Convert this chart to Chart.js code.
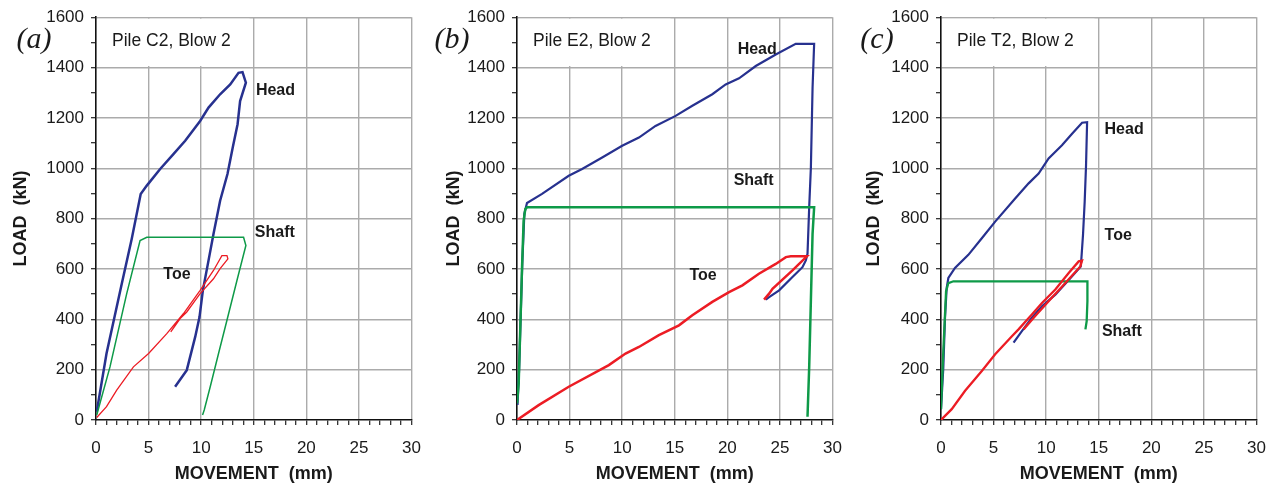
<!DOCTYPE html>
<html>
<head>
<meta charset="utf-8">
<script src="https://cdn.jsdelivr.net/npm/chart.js@4.4.1/dist/chart.umd.min.js"></script>
<style>
  body { margin: 0; background: #fff; width: 1273px; height: 485px; overflow: hidden; position: relative; }
  canvas { position: absolute; top: 0; }
</style>
</head>
<body>
<canvas id="chartA" width="434" height="485" style="left:0px;width:434px;height:485px"></canvas>
<canvas id="chartB" width="434" height="485" style="left:421px;width:434px;height:485px"></canvas>
<canvas id="chartC" width="434" height="485" style="left:845px;width:434px;height:485px"></canvas>
<script>
// movement (mm) / load (kN)

// (a) Pile C2, Blow 2
const headMovA = [0.07, 1.0, 2.45, 3.4, 4.25, 4.83, 6.1, 7.36, 8.48, 9.9, 10.7, 11.8, 12.76, 13.55, 13.93, 14.25, 13.7, 13.46, 13.0, 12.5, 11.8, 11.17, 10.7, 10.16, 9.84, 9.43, 8.63, 7.52];
const headLoadA = [33, 264, 541, 720, 898, 931, 997, 1056, 1109, 1188, 1241, 1294, 1333, 1379, 1382, 1340, 1267, 1175, 1082, 977, 871, 739, 634, 515, 409, 330, 198, 132];
const shaftMovA = [0.07, 1.33, 2.92, 4.19, 4.83, 14.03, 14.25, 13.4, 12.45, 11.65, 10.86, 10.29, 10.13];
const shaftLoadA = [20, 211, 502, 713, 726, 726, 693, 554, 396, 264, 132, 40, 20];
const toeMovA = [0.07, 1.0, 1.97, 3.56, 5.0, 6.73, 8.32, 9.9, 11.17, 11.97, 12.45, 12.54, 11.8, 11.17, 9.9, 8.63, 8.0, 7.11];
const toeLoadA = [10, 53, 119, 211, 264, 343, 423, 515, 594, 653, 653, 640, 601, 561, 502, 429, 403, 350];

// (b) Pile E2, Blow 2
const headMovB = [0.05, 0.2, 0.5, 0.7, 0.95, 2.38, 4.92, 6.19, 8.1, 10.0, 11.59, 13.17, 15.08, 16.67, 18.57, 19.84, 21.11, 22.7, 24.6, 26.5, 28.25, 28.1, 27.94, 27.78, 27.62, 27.46, 27.14, 26.19, 24.92, 23.97, 23.65];
const headLoadB = [60, 200, 620, 820, 862, 898, 970, 997, 1043, 1089, 1122, 1168, 1208, 1248, 1294, 1333, 1357, 1406, 1452, 1494, 1494, 1320, 1003, 845, 660, 634, 607, 568, 515, 488, 478];
const shaftMovB = [0, 0.16, 0.48, 0.63, 0.79, 0.95, 28.25, 28.1, 27.94, 27.78, 27.62];
const shaftLoadB = [66, 145, 607, 792, 838, 845, 845, 739, 475, 211, 13];
const toeMovB = [0, 2.06, 4.92, 8.73, 10.32, 11.59, 13.49, 15.4, 16.67, 18.57, 20.16, 21.43, 23.0, 24.6, 25.56, 26.03, 27.56, 26.19, 24.29, 23.97, 23.49];
const toeLoadB = [0, 59, 132, 218, 264, 290, 337, 376, 416, 469, 508, 535, 581, 620, 647, 650, 650, 594, 521, 502, 478];

// (c) Pile T2, Blow 2
const headMovC = [0, 0.22, 0.38, 0.54, 0.7, 1.33, 2.6, 3.88, 5.15, 7.05, 8.33, 9.28, 10.23, 11.5, 12.46, 13.41, 13.89, 13.79, 13.66, 13.5, 13.35, 13.28, 12.46, 10.87, 9.6, 8.64, 7.69, 6.9];
const headLoadC = [43, 208, 406, 525, 564, 604, 656, 722, 788, 880, 940, 979, 1039, 1091, 1137, 1181, 1183, 1012, 867, 735, 643, 610, 571, 498, 452, 406, 353, 307];
const shaftMovC = [0, 0.22, 0.48, 0.7, 1.18, 13.92, 13.92, 13.85, 13.73];
const shaftLoadC = [43, 274, 511, 544, 551, 551, 472, 393, 360];
const toeMovC = [0, 1.02, 2.29, 3.88, 5.15, 6.74, 7.37, 8.64, 9.6, 10.87, 12.14, 13.09, 13.41, 13.25, 11.82, 10.23, 8.96, 7.85];
const toeLoadC = [0, 43, 116, 195, 261, 333, 360, 419, 465, 518, 584, 630, 633, 610, 544, 472, 413, 360];

const xMax = 30, yMax = 1600;

const BLUE = "#27318f";
const GREEN = "#0e9a48";
const RED = "#ec1c24";
const GRID = "#ababab";
const SANS = '"Liberation Sans", Arial, sans-serif';

const pts = (xs, ys) => xs.map((x, i) => ({ x, y: ys[i] }));

function line(label, xs, ys, color, width) {
  return {
    label, data: pts(xs, ys), borderColor: color, borderWidth: width,
    showLine: true, pointRadius: 0, fill: false, tension: 0
  };
}

function makeChart(id, p) {
  const textPlugin = {
    id: "panelText",
    beforeDatasetsDraw(chart) {
      // white box behind the pile name hides the grid there
      const { ctx, scales: { x, y } } = chart;
      const l = x.getPixelForValue(0) + 1.5, r = x.getPixelForValue(14.6);
      const t = y.getPixelForValue(yMax) + 1.5, b = y.getPixelForValue(1400) - 1.5;
      ctx.save();
      ctx.fillStyle = "#fff";
      ctx.fillRect(l, t, r - l, b - t);
      ctx.restore();
    },
    afterDatasetsDraw(chart) {
      const { ctx, scales: { x, y } } = chart;
      ctx.save();
      ctx.fillStyle = "#1a1a1a";
      ctx.textBaseline = "middle";
      ctx.textAlign = "center";
      ctx.font = 'italic 30px "Liberation Serif", serif';
      ctx.fillText(p.letter, x.left + p.letterDx, 40);
      ctx.textAlign = "left";
      ctx.font = "17.5px " + SANS;
      ctx.fillText(p.title, x.left + 16, 41);
      ctx.font = "bold 16px " + SANS;
      p.labels.forEach(l => ctx.fillText(l.text, x.getPixelForValue(l.x), y.getPixelForValue(l.y)));
      ctx.restore();
    }
  };

  const tickFont = { family: SANS, size: 17 };
  const titleFont = { family: SANS, size: 18, weight: "bold" };

  new Chart(document.getElementById(id), {
    type: "scatter",
    data: {
      datasets: [
        line("Toe", p.toe[0], p.toe[1], RED, p.widths[2]),
        line("Shaft", p.shaft[0], p.shaft[1], GREEN, p.widths[1]),
        line("Head", p.head[0], p.head[1], BLUE, p.widths[0])
      ]
    },
    options: {
      responsive: false,
      animation: false,
      layout: { padding: { top: 16, right: 14, left: 0, bottom: 0 } },
      plugins: { legend: { display: false }, tooltip: { enabled: false } },
      scales: {
        x: {
          type: "linear", min: 0, max: xMax,
          afterFit: s => { s.height = 65; },
          ticks: {
            stepSize: 1, autoSkip: false, maxRotation: 0, padding: 13,
            font: tickFont, color: "#1a1a1a",
            callback: v => (v % 5 === 0 ? v : "")
          },
          grid: {
            color: c => (c.tick && c.tick.value % 5 === 0 && c.tick.value !== 0 ? GRID : "rgba(0,0,0,0)"),
            lineWidth: 1.4, tickLength: 5, tickColor: "#222", tickWidth: 1.2
          },
          border: { color: "#111", width: 1.6 },
          title: { display: true, text: "MOVEMENT  (mm)", font: titleFont, color: "#1a1a1a", padding: { top: 0, bottom: 0 } }
        },
        y: {
          type: "linear", min: 0, max: yMax,
          afterFit: s => { s.width = 96; },
          ticks: {
            stepSize: 100, autoSkip: false, padding: 7,
            font: tickFont, color: "#1a1a1a",
            callback: v => (v % 200 === 0 ? v : "")
          },
          grid: {
            color: c => (c.tick && c.tick.value % 200 === 0 && c.tick.value !== 0 ? GRID : "rgba(0,0,0,0)"),
            lineWidth: 1.4, tickLength: 5, tickColor: "#222", tickWidth: 1.2
          },
          border: { color: "#111", width: 1.6 },
          title: { display: true, text: "LOAD  (kN)", font: titleFont, color: "#1a1a1a", padding: { top: p.yTitlePad, bottom: 0 } }
        }
      }
    },
    plugins: [textPlugin]
  });
}

makeChart("chartA", {
  head: [headMovA, headLoadA], shaft: [shaftMovA, shaftLoadA], toe: [toeMovA, toeLoadA],
  widths: [2.5, 1.5, 1.3], letter: "(a)", letterDx: -62, title: "Pile C2, Blow 2", yTitlePad: 10,
  labels: [{ text: "Head", x: 15.2, y: 1307 }, { text: "Shaft", x: 15.1, y: 745 }, { text: "Toe", x: 6.4, y: 578 }]
});
makeChart("chartB", {
  head: [headMovB, headLoadB], shaft: [shaftMovB, shaftLoadB], toe: [toeMovB, toeLoadB],
  widths: [2.2, 2.5, 2.5], letter: "(b)", letterDx: -65, title: "Pile E2, Blow 2", yTitlePad: 22,
  labels: [{ text: "Head", x: 20.98, y: 1473 }, { text: "Shaft", x: 20.6, y: 950 }, { text: "Toe", x: 16.4, y: 574 }]
});
makeChart("chartC", {
  head: [headMovC, headLoadC], shaft: [shaftMovC, shaftLoadC], toe: [toeMovC, toeLoadC],
  widths: [2.2, 2.3, 2.3], letter: "(c)", letterDx: -64, title: "Pile T2, Blow 2", yTitlePad: 18,
  labels: [{ text: "Head", x: 15.55, y: 1154 }, { text: "Toe", x: 15.55, y: 734 }, { text: "Shaft", x: 15.3, y: 350 }]
});
</script>
</body>
</html>
